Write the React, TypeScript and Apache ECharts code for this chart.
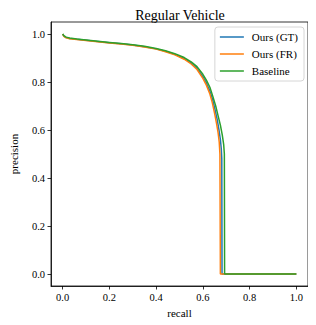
import React, { useEffect, useRef } from "react";
import * as echarts from "echarts";

const seriesNames = ["Ours (GT)", "Ours (FR)", "Baseline"];
const colors = ["#1f77b4", "#ff7f0e", "#2ca02c"];

const oursGT: [number, number][] = [
  [0, 1.0], [0.005, 0.991], [0.015, 0.985], [0.03, 0.981], [0.06, 0.978], [0.1, 0.974],
  [0.15, 0.969], [0.2, 0.964], [0.25, 0.959], [0.3, 0.954], [0.35, 0.947], [0.4, 0.938],
  [0.44, 0.928], [0.48, 0.915], [0.52, 0.898], [0.55, 0.879], [0.575, 0.857], [0.6, 0.822],
  [0.615, 0.796], [0.63, 0.762], [0.642, 0.726], [0.652, 0.685], [0.661, 0.645], [0.669, 0.6],
  [0.675, 0.56], [0.679, 0.52], [0.681, 0.48], [0.682, 0.0], [1.0, 0.0],
];

const oursFR: [number, number][] = [
  [0, 1.0], [0.005, 0.99], [0.015, 0.984], [0.03, 0.98], [0.06, 0.977], [0.1, 0.973],
  [0.15, 0.968], [0.2, 0.963], [0.25, 0.958], [0.3, 0.953], [0.35, 0.946], [0.4, 0.937],
  [0.44, 0.926], [0.48, 0.913], [0.52, 0.895], [0.55, 0.875], [0.575, 0.852], [0.6, 0.815],
  [0.615, 0.787], [0.63, 0.75], [0.64, 0.715], [0.65, 0.67], [0.658, 0.63], [0.665, 0.59],
  [0.67, 0.55], [0.673, 0.5], [0.675, 0.0], [1.0, 0.0],
];

const baseline: [number, number][] = [
  [0, 1.0], [0.005, 0.993], [0.015, 0.987], [0.03, 0.983], [0.06, 0.979], [0.1, 0.975],
  [0.15, 0.97], [0.2, 0.965], [0.25, 0.96], [0.3, 0.955], [0.35, 0.949], [0.4, 0.94],
  [0.44, 0.93], [0.48, 0.918], [0.52, 0.902], [0.55, 0.884], [0.575, 0.864], [0.6, 0.832],
  [0.615, 0.808], [0.63, 0.778], [0.643, 0.739], [0.655, 0.7], [0.665, 0.66], [0.675, 0.62],
  [0.683, 0.58], [0.689, 0.54], [0.692, 0.5], [0.693, 0.0], [1.0, 0.0],
];

const tickValues = [0, 0.2, 0.4, 0.6, 0.8, 1.0];

const FONT = "Liberation Serif, serif";

export default function App() {
  const ref = useRef<HTMLDivElement>(null);
  useEffect(() => {
    if (!ref.current) return;
    const chart = echarts.init(ref.current, undefined, { renderer: "svg" });
    const axisCommon = {
      type: "value" as const,
      min: -0.05,
      max: 1.05,
      axisLine: { show: true, onZero: false, lineStyle: { color: "#000", width: 0.8 } },
      axisTick: { show: true, length: 3.5, lineStyle: { color: "#000", width: 0.8 }, customValues: tickValues },
      axisLabel: {
        customValues: tickValues,
        formatter: (v: number) => v.toFixed(1),
        color: "#000",
        fontFamily: FONT,
        fontSize: 10.5,
        fontWeight: "normal",
        margin: 6,
      },
      splitLine: { show: false },
      nameLocation: "middle" as const,
      nameTextStyle: { color: "#000", fontFamily: FONT, fontSize: 11, fontWeight: "normal" },
    };
    const data = [oursGT, oursFR, baseline];
    chart.setOption({
      animation: false,
      title: {
        text: "Regular Vehicle",
        left: 175,
        textAlign: "center",
        top: 3,
        textStyle: { color: "#000", fontFamily: FONT, fontSize: 14, fontWeight: "normal" },
      },
      grid: {
        left: 42, top: 22, right: 8, bottom: 39,
        show: true, borderColor: "#000", borderWidth: 0.8, backgroundColor: "transparent",
      },
      legend: {
        right: 12,
        top: 27,
        orient: "vertical",
        data: seriesNames.map((n) => ({ name: n, icon: "rect" })),
        itemWidth: 24,
        itemHeight: 1.5,
        itemGap: 3,
        padding: [3, 6, 3, 5],
        borderColor: "#ccc",
        borderWidth: 0.8,
        borderRadius: 3,
        backgroundColor: "rgba(255,255,255,0.8)",
        textStyle: {
          color: "#000", fontFamily: FONT, fontSize: 11, fontWeight: "normal",
          lineHeight: 14, padding: [0, 0, 0, 3],
        },
      },
      xAxis: { ...axisCommon, name: "recall", nameGap: 20 },
      yAxis: { ...axisCommon, name: "precision", nameGap: 32 },
      series: data.map((d, i) => ({
        name: seriesNames[i],
        type: "line",
        data: d,
        symbol: "none",
        showSymbol: false,
        lineStyle: { color: colors[i], width: 1.5 },
        itemStyle: { color: colors[i] },
        z: i + 2,
      })),
    });
    return () => chart.dispose();
  }, []);
  return <div ref={ref} style={{ width: 316, height: 325, margin: -8 }} />;
}
